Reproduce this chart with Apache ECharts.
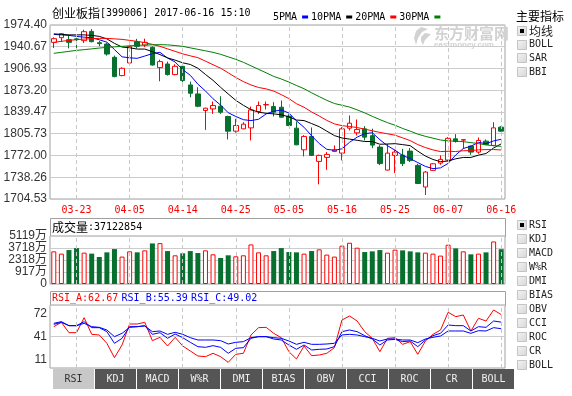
<!DOCTYPE html>
<html><head><meta charset="utf-8">
<script src="https://cdn.jsdelivr.net/npm/echarts@6/dist/echarts.min.js"></script>
<style>html,body{margin:0;padding:0;background:#fff}#c{width:572px;height:396px}</style>
</head><body><div id="c"></div>
<script>
// ---------------- data ----------------
const dates = ['03-20','03-21','03-22','03-23','03-24','03-27','03-28','03-29','03-30','03-31',
'04-05','04-06','04-07','04-10','04-11','04-12','04-13','04-14','04-17','04-18','04-19','04-20','04-21','04-24','04-25','04-26','04-27','04-28',
'05-02','05-03','05-04','05-05','05-08','05-09','05-10','05-11','05-12','05-15','05-16','05-17','05-18','05-19','05-22','05-23','05-24','05-25','05-26','05-31',
'06-01','06-02','06-05','06-06','06-07','06-08','06-09','06-12','06-13','06-14','06-15','06-16'];
const opens = [1947.47,1954.74,1951.65,1952.89,1950.10,1964.49,1947.00,1944.84,1924.26,1895.94,
1915.44,1948.55,1943.29,1939.73,1908.32,1913.89,1897.49,1910.33,1881.40,1867.47,
1841.78,1844.26,1848.44,1832.50,1809.75,1813.31,1814.86,1840.23,1850.45,1847.97,
1846.89,1832.96,1814.39,1780.81,1801.55,1762.86,1769.05,1778.34,1775.71,1814.39,
1807.12,1813.31,1802.79,1784.99,1749.40,1772.15,1772.61,1778.80,1756.67,1723.10,
1748.94,1760.23,1764.88,1797.84,1795.82,1786.54,1777.26,1794.28,1787.62,1815.94];
const closes = [1953.19,1960.93,1947.47,1951.65,1964.03,1948.55,1945.46,1929.36,1894.39,1907.24,
1941.28,1941.28,1947.47,1912.34,1917.60,1897.49,1910.33,1888.20,1868.55,1848.44,
1845.34,1849.52,1839.15,1809.75,1818.57,1820.58,1842.71,1849.52,1851.07,1839.15,
1831.41,1818.57,1788.55,1801.55,1772.15,1772.15,1773.70,1780.81,1813.31,1822.13,
1812.38,1800.47,1788.09,1759.46,1775.71,1777.26,1759.46,1764.10,1728.51,1746.31,
1759.15,1765.96,1798.61,1793.81,1796.60,1777.26,1795.36,1789.17,1814.86,1809.75];
const lows = [1938.65,1947.93,1938.18,1934.63,1946.39,1947.47,1941.28,1926.89,1893.31,1894.86,
1913.89,1938.18,1940.20,1911.41,1887.12,1895.94,1896.40,1885.57,1862.36,1846.89,
1811.76,1836.52,1836.52,1796.91,1807.43,1812.85,1795.36,1836.52,1843.33,1832.50,
1830.64,1817.49,1788.09,1770.60,1771.07,1727.27,1749.87,1777.26,1764.41,1810.83,
1803.10,1795.36,1783.44,1757.14,1748.94,1744.76,1755.59,1761.78,1727.74,1710.72,
1747.85,1757.60,1763.33,1791.96,1782.36,1773.08,1774.62,1788.09,1786.54,1808.98];
const highs = [1955.21,1961.40,1958.30,1958.77,1967.12,1968.05,1949.48,1946.70,1926.89,1908.78,
1942.36,1952.89,1953.19,1941.28,1920.70,1917.60,1913.43,1913.89,1886.66,1877.84,
1846.12,1855.71,1863.91,1833.73,1828.78,1823.68,1847.97,1855.71,1855.71,1854.63,
1857.26,1836.06,1824.76,1803.56,1815.48,1773.39,1777.26,1787.62,1815.94,1834.04,
1827.86,1817.49,1813.62,1788.09,1790.10,1780.35,1782.36,1783.44,1759.15,1747.85,
1760.23,1772.15,1800.47,1805.11,1796.91,1787.62,1800.00,1796.91,1823.68,1817.49];
const ma5 = [1959.85,1959.07,1958.30,1956.75,1955.52,1954.59,1951.49,1947.78,1936.33,1925.03,
1923.49,1922.71,1926.27,1929.99,1932.00,1923.18,1916.99,1905.22,1896.40,1882.63,
1872.11,1860.04,1850.14,1838.38,1832.50,1827.55,1826.15,1828.16,1836.52,1840.54,
1842.71,1837.91,1825.69,1815.79,1802.48,1790.57,1781.59,1780.04,1782.37,1792.43,
1800.47,1805.89,1807.28,1796.45,1787.17,1780.20,1772.00,1767.20,1761.01,1755.13,
1751.57,1752.81,1759.77,1772.77,1782.83,1786.39,1792.27,1790.41,1794.59,1797.22];
const ma10 = [1960.62,1959.85,1959.07,1959.07,1959.07,1958.30,1956.75,1952.89,1945.92,1940.23,
1939.04,1937.07,1937.07,1933.14,1928.50,1923.39,1919.88,1915.76,1913.18,1907.30,
1897.71,1888.53,1877.70,1867.44,1857.53,1849.84,1843.08,1839.21,1837.47,1836.54,
1835.14,1832.05,1826.99,1826.17,1821.53,1816.68,1809.78,1802.91,1799.14,1797.43,
1795.53,1793.72,1793.67,1789.46,1789.82,1790.33,1788.91,1787.23,1778.76,1771.17,
1765.85,1762.40,1763.45,1766.89,1768.98,1768.98,1772.57,1775.07,1783.71,1790.05];
const ma20 = [1947.47,1949.02,1950.56,1951.65,1952.58,1953.19,1953.66,1953.66,1952.89,1952.11,
1950.56,1949.02,1947.00,1944.37,1941.28,1937.41,1933.54,1929.67,1926.58,1923.76,
1918.36,1912.79,1907.38,1900.29,1893.02,1886.61,1881.47,1877.48,1875.31,1871.91,
1866.42,1860.29,1852.34,1846.80,1839.52,1833.26,1826.43,1821.06,1818.29,1816.98,
1815.34,1812.88,1810.32,1807.82,1805.66,1803.50,1799.34,1795.07,1788.94,1784.30,
1780.69,1778.06,1778.56,1778.17,1779.39,1779.65,1780.74,1781.15,1781.23,1780.61];
const ma30 = [1930.45,1932.00,1933.54,1935.09,1936.17,1937.41,1938.65,1939.73,1940.51,1941.28,
1942.05,1942.83,1943.29,1943.60,1943.91,1943.60,1942.52,1941.28,1938.96,1936.64,
1934.32,1932.00,1928.90,1925.03,1921.16,1916.52,1911.11,1905.69,1900.27,1894.69,
1890.63,1885.88,1880.59,1875.58,1869.19,1863.31,1857.58,1852.63,1849.92,1847.09,
1842.79,1838.10,1832.79,1827.69,1822.96,1818.96,1813.93,1809.78,1805.12,1801.72,
1798.84,1796.06,1794.71,1794.17,1793.44,1792.00,1790.42,1788.41,1787.21,1786.21];
const volumes = [3482,3239,3619,3830,3344,3239,2880,3376,3724,2922,
3482,3376,3587,4326,4360,3513,3060,3271,3513,3302,
3587,3165,2775,3060,2954,3060,4220,3376,3060,3513,
3830,3408,3376,3239,3513,3693,3133,2922,4083,4399,
3872,3408,3482,3619,3344,3661,3587,3482,3376,3344,
3239,3028,4188,3798,3482,3165,3239,3376,4537,3712.2854];
const rsiA = [51.03,55.22,45.22,45.22,59.74,43.60,42.96,34.89,21.01,33.27,
53.61,53.61,55.22,37.47,40.70,32.31,40.70,32.31,27.47,22.62,
21.98,25.21,21.98,16.49,24.24,25.21,42.96,50.06,50.38,44.57,
40.38,26.82,19.72,32.31,22.95,23.59,25.21,30.69,57.48,61.35,
56.51,46.19,39.73,26.82,39.73,40.38,33.92,36.50,24.24,37.15,
43.60,47.80,64.91,60.71,62.32,46.83,59.10,56.51,67.16,62.67];
const rsiB = [53.29,55.22,51.99,51.99,55.87,50.06,50.06,46.19,34.89,39.73,
51.03,51.03,51.99,43.60,45.22,39.73,43.93,40.38,35.86,31.66,
31.02,32.63,31.02,25.21,30.05,30.69,39.73,41.34,41.34,39.09,
38.12,33.27,29.08,33.27,28.43,29.08,29.40,31.66,46.19,47.80,
46.19,42.31,39.09,33.27,38.12,38.76,36.50,37.15,31.66,38.12,
42.31,44.57,52.64,51.99,51.99,46.83,51.03,50.38,56.51,55.39];
const rsiC = [54.25,55.87,51.99,51.99,54.25,51.03,50.38,47.80,41.34,44.57,
50.38,51.03,51.67,46.19,46.83,43.60,45.54,43.60,40.38,38.12,
38.12,38.12,37.47,34.24,35.86,36.50,40.38,41.34,41.34,40.38,
39.73,37.15,33.92,35.86,33.92,33.92,34.24,34.89,42.96,43.60,
42.96,41.34,39.73,37.15,39.09,39.09,38.12,38.12,35.53,39.09,
40.70,41.99,46.83,46.83,46.83,44.57,47.15,46.83,50.06,49.02];
const priceTicks = ['1704.53','1738.26','1772.00','1805.73','1839.47','1873.20','1906.93','1940.67','1974.40'];
const volTicks = ['0','917万','2318万','3718万','5119万'];
const rsiTicks = ['11','41','72'];
const gridDates = ['03-23','04-05','04-14','04-25','05-05','05-16','05-25','06-07','06-16'];
const maNames = ['5PMA','10PMA','20PMA','30PMA'];
const mainIndicators = ['均线','BOLL','SAR','BBI'];
const subIndicators = ['RSI','KDJ','MACD','W%R','DMI','BIAS','OBV','CCI','ROC','CR','BOLL'];
const titleName = '创业板指';
const titleInfo = '[399006] 2017-06-16 15:10';

// ---------------- styles ----------------
const RED = '#ff0000', GREEN = '#08702e', BLUE = '#0000ff';
const MONO = "'DejaVu Sans Mono','Liberation Mono',monospace";
const SANS = "'Liberation Sans','Noto Sans CJK SC',sans-serif";
const CJK = "'Noto Sans CJK SC',sans-serif";
const BORDER = '#a0a0a0', GRIDC = '#cccccc';
const L = 50, W = 455;

const PMIN = parseFloat(priceTicks[0]), PMAX = parseFloat(priceTicks[priceTicks.length-1]);
const PSTEP = (PMAX - PMIN) / (priceTicks.length - 1);
const VMAX = parseFloat(volTicks[volTicks.length-1]);
const VSTEP = VMAX / (volTicks.length - 1);
const RMIN = parseFloat(rsiTicks[0]), RMAX = parseFloat(rsiTicks[rsiTicks.length-1]);
const RSTEP = (RMAX - RMIN) / (rsiTicks.length - 1);

function vlineSeries(g){
  return {type:'line', name:'grid'+g, xAxisIndex:g, yAxisIndex:g, data:[], silent:true, z:1,
    markLine:{silent:true, symbol:['none','none'], label:{show:false}, animation:false,
      emphasis:{disabled:true},
      lineStyle:{color:'#c8c8c8', type:[4,3], width:1},
      data: gridDates.map(d => ({xAxis: d}))}};
}
function xAx(gi, showLabel){
  return {type:'category', gridIndex:gi, data:dates, boundaryGap:true,
    axisLine:{show:false}, axisTick:{show:false}, splitLine:{show:false},
    axisLabel: showLabel ? {show:true, color:RED, fontFamily:MONO, fontSize:10, margin:6,
      interval:(idx, val) => gridDates.includes(val)} : {show:false}};
}
const labelBase = {color:'#333', fontFamily:SANS, fontSize:12, margin:3};

const chart = echarts.init(document.getElementById('c'), null, {renderer:'canvas'});

const candleData = dates.map((d,i) => [opens[i], closes[i], lows[i], highs[i]]);
const volData = volumes.map((v,i) => closes[i] >= opens[i]
  ? {value:v, itemStyle:{color:'#ffffff', borderColor:RED, borderWidth:1}}
  : {value:v, itemStyle:{color:GREEN, borderColor:GREEN, borderWidth:0}});
const maArr = [ma5, ma10, ma20, ma30];
const maCol = [BLUE, '#000000', RED, '#008000'];

const graphics = [];
// title
graphics.push({type:'text', x:52, y:13, style:{text:'{c|'+titleName+'}{a|'+titleInfo+'}', verticalAlign:'middle',
  rich:{c:{fontFamily:CJK, fontSize:12, fill:'#000'}, a:{fontFamily:MONO, fontSize:10, fill:'#000'}}}});
// watermark
graphics.push({type:'text', x:434, y:26, style:{text:'东方财富网', fontFamily:CJK, fontSize:15, fontWeight:'bold', fill:'#d2d2d2'}});
graphics.push({type:'text', x:434, y:41, style:{text:'eastmoney.com', fontFamily:SANS, fontSize:8, fontWeight:'bold', fill:'#d2d2d2'}});
graphics.push({type:'polygon', shape:{points:[[421,27],[416,31],[414,38],[416,45],[418,38],[422,32],[428,29]]}, style:{fill:'#d2d2d2'}});
graphics.push({type:'polygon', shape:{points:[[425,33],[421,37],[421,41],[423,45],[425,40],[428,37],[431,34]]}, style:{fill:'#d2d2d2'}});
// volume title box
graphics.push({type:'rect', shape:{x:L+0.5, y:218.5, width:W, height:18}, style:{fill:'#fff', stroke:BORDER, lineWidth:1}, z:-1});
graphics.push({type:'text', x:52, y:227, style:{text:'{c|成交量}{a|:'+Math.round(volumes[volumes.length-1]*10000)+'}', verticalAlign:'middle',
  rich:{c:{fontFamily:CJK, fontSize:12, fill:'#000'}, a:{fontFamily:MONO, fontSize:10, fill:'#000'}}}});
// RSI title box
graphics.push({type:'rect', shape:{x:L+0.5, y:291.5, width:W, height:14}, style:{fill:'#fff', stroke:BORDER, lineWidth:1}, z:-1});
const la = rsiA[rsiA.length-1].toFixed(2), lb = rsiB[rsiB.length-1].toFixed(2), lc = rsiC[rsiC.length-1].toFixed(2);
graphics.push({type:'text', x:52, y:298.5, style:{text:'{r|RSI_A:'+la+'} {b|RSI_B:'+lb+'} {b|RSI_C:'+lc+'}', verticalAlign:'middle',
  rich:{r:{fontFamily:MONO, fontSize:10, fill:RED}, b:{fontFamily:MONO, fontSize:10, fill:BLUE}}}});
// right panel
function checkbox(x, y, checked){
  graphics.push({type:'rect', shape:{x:x+0.5, y:y+0.5, width:9, height:9},
    style:{fill:new echarts.graphic.LinearGradient(0,0,1,1,[{offset:0,color:'#f4f4f4'},{offset:1,color:'#d6d6d6'}]), stroke:'#c4c4c4', lineWidth:1}});
  if (checked) graphics.push({type:'rect', shape:{x:x+3, y:y+3, width:4, height:4}, style:{fill:'#000'}});
}
graphics.push({type:'text', x:516, y:16, style:{text:'主要指标', fontFamily:CJK, fontSize:12, fill:'#000', verticalAlign:'middle'}});
mainIndicators.forEach((t,i) => {
  const cy = 31 + i*13.7;
  checkbox(517, Math.round(cy-5), i===0);
  graphics.push({type:'text', x:529, y:cy, style:{text:t, fontFamily: i===0 ? CJK : MONO, fontSize: i===0 ? 12 : 10, fill:'#222', verticalAlign:'middle'}});
});
subIndicators.forEach((t,i) => {
  const cy = 225 + i*14;
  checkbox(517, Math.round(cy-5), i===0);
  graphics.push({type:'text', x:529, y:cy, style:{text:t, fontFamily:MONO, fontSize:10, fill:'#222', verticalAlign:'middle'}});
});
// bottom tabs
subIndicators.forEach((t,i) => {
  const x = 53 + i*42;
  graphics.push({type:'rect', shape:{x:x, y:369, width:41, height:20}, style:{fill: i===0 ? '#c8c8c8' : '#555555'}});
  graphics.push({type:'text', x:x+20.5, y:379, style:{text:t, fontFamily:MONO, fontSize:10, fill: i===0 ? '#333' : '#f0f0f0', align:'center', verticalAlign:'middle'}});
});

const option = {
  animation:false,
  backgroundColor:'#ffffff',
  legend:{left:268, top:7, align:'right', icon:'rect', itemWidth:6, itemHeight:3, itemGap:3,
    selectedMode:false, textStyle:{fontFamily:MONO, fontSize:10, color:'#000'}, data:maNames},
  grid:[
    {left:L, width:W, top:25, height:174, show:true, borderColor:BORDER, borderWidth:1, backgroundColor:'transparent'},
    {left:L, width:W, top:236, height:48, show:true, borderColor:BORDER, borderWidth:1, backgroundColor:'transparent'},
    {left:L, width:W, top:305, height:63, show:true, borderColor:BORDER, borderWidth:1, backgroundColor:'transparent'}
  ],
  xAxis:[xAx(0,true), xAx(1,false), xAx(2,false)],
  yAxis:[
    {type:'value', gridIndex:0, min:PMIN, max:PMAX, interval:PSTEP, scale:true,
      axisLine:{show:false}, axisTick:{show:false},
      splitLine:{show:true, lineStyle:{color:GRIDC, width:1}},
      axisLabel:Object.assign({}, labelBase, {showMinLabel:true, showMaxLabel:true,
        formatter:v => priceTicks[Math.round((v-PMIN)/PSTEP)] || ''})},
    {type:'value', gridIndex:1, min:0, max:VMAX, interval:VSTEP,
      axisLine:{show:false}, axisTick:{show:false},
      splitLine:{show:true, lineStyle:{color:GRIDC, width:1}},
      axisLabel:Object.assign({}, labelBase, {showMinLabel:true, showMaxLabel:true,
        formatter:v => volTicks[Math.round(v/VSTEP)] || ''})},
    {type:'value', gridIndex:2, min:RMIN, max:RMAX, interval:RSTEP, scale:true,
      axisLine:{show:false}, axisTick:{show:false},
      splitLine:{show:true, lineStyle:{color:GRIDC, width:1}},
      axisLabel:Object.assign({}, labelBase, {showMinLabel:true, showMaxLabel:true,
        formatter:v => {
          const k = Math.round((v-RMIN)/RSTEP); const t = rsiTicks[k] || '';
          if (k === rsiTicks.length-1) return '{top|'+t+'}';
          if (k === 0) return '{bot|'+t+'}';
          return t;
        },
        rich:{top:{padding:[18,0,0,0], fontFamily:SANS, fontSize:12, color:'#333'},
              bot:{padding:[0,0,16,0], fontFamily:SANS, fontSize:12, color:'#333'}}})}
  ],
  series:[
    vlineSeries(0), vlineSeries(1), vlineSeries(2),
    {type:'candlestick', name:'K', xAxisIndex:0, yAxisIndex:0, barWidth:5, data:candleData,
      itemStyle:{color:'#ffffff', color0:GREEN, borderColor:RED, borderColor0:GREEN, borderWidth:1}, z:2},
    ...maNames.map((n,k) => ({type:'line', name:n, xAxisIndex:0, yAxisIndex:0, data:maArr[k],
      showSymbol:false, symbol:'none', lineStyle:{width:1, color:maCol[k]}, itemStyle:{color:maCol[k]}, z:3})),
    {type:'bar', name:'VOL', xAxisIndex:1, yAxisIndex:1, barWidth:5, data:volData, z:2},
    {type:'line', name:'RSI_A', xAxisIndex:2, yAxisIndex:2, data:rsiA, showSymbol:false, symbol:'none',
      lineStyle:{width:1, color:RED}, itemStyle:{color:RED}, z:3},
    {type:'line', name:'RSI_B', xAxisIndex:2, yAxisIndex:2, data:rsiB, showSymbol:false, symbol:'none',
      lineStyle:{width:1, color:BLUE}, itemStyle:{color:BLUE}, z:3},
    {type:'line', name:'RSI_C', xAxisIndex:2, yAxisIndex:2, data:rsiC, showSymbol:false, symbol:'none',
      lineStyle:{width:1, color:BLUE}, itemStyle:{color:BLUE}, z:3}
  ],
  graphic: graphics
};
chart.setOption(option);
</script></body></html>
